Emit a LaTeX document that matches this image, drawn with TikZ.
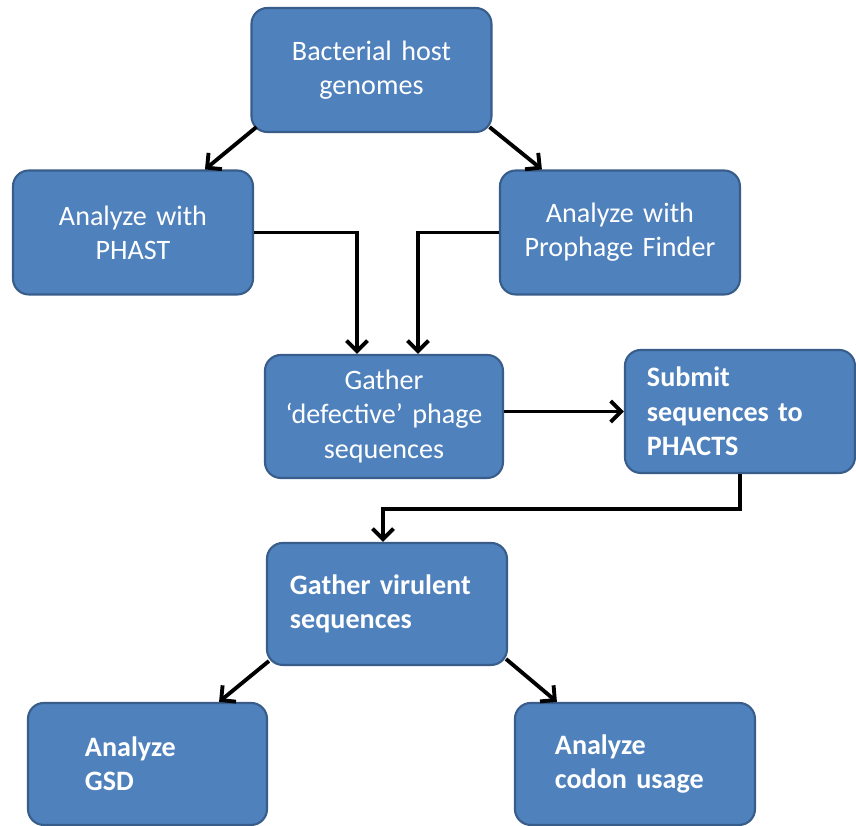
\documentclass[tikz,border=0pt]{standalone}
\usepackage{fontspec}
\setmainfont{Carlito}
\usepackage{tikz}
\usetikzlibrary{arrows.meta,positioning}
\definecolor{boxblue}{HTML}{4F81BD}
\definecolor{edgeblue}{HTML}{385D8A}
\newcommand{\boxfont}{\fontsize{16}{19.5}\selectfont\spaceskip=2.4pt plus 1pt minus 0.5pt}

\begin{document}
\begin{tikzpicture}[x=1cm,y=1cm,
  stepbox/.style={rectangle,rounded corners=9pt,draw=edgeblue,line width=1.2pt,fill=boxblue,text=white,minimum width=4.8cm,minimum height=2.48cm,font=\boxfont},
  midbox/.style={stepbox,text width=4.2cm,align=center,inner xsep=0.3cm},
  leftbox/.style={stepbox,align=left,font=\boxfont\bfseries},
  flow/.style={-{Straight Barb[length=6pt,width=12pt]},black,line width=2.2pt}]
\fill[white] (0,0) rectangle (17.12,-16.52);
\node[midbox] (host) at (7.43,-1.40) {Bacterial host\\genomes};
\node[midbox] (phast) at (2.66,-4.65) {Analyze with\\PHAST};
\node[midbox] (pfind) at (12.40,-4.65) {Analyze with\\Prophage Finder};
\draw[flow] ([shift={(0.12,0.12)}]host.south west) -- ([xshift=1.44cm]phast.north);
\draw[flow] ([shift={(-0.06,0.12)}]host.south east) -- ([xshift=0.86cm]pfind.north west);
\node[midbox,minimum width=4.76cm,text width=4.16cm,minimum height=2.46cm] (defect) at (7.68,-8.33) {Gather\\`defective' phage\\sequences};
\draw[flow] (phast.east) -| ([xshift=-0.54cm]defect.north);
\draw[flow] (pfind.west) -| ([xshift=0.68cm]defect.north);
\node[leftbox,minimum width=4.6cm,minimum height=2.46cm,inner xsep=0.44cm,text width=3.72cm] (submit) at (14.80,-8.23) {Submit\\sequences to\\PHACTS};
\draw[flow] (submit.west -| defect.east) -- (submit.west);
\node[leftbox,inner xsep=0.46cm,text width=3.88cm,minimum height=2.44cm] (viru) at (7.74,-12.08) {Gather virulent\\sequences};
\draw[flow] (submit.south) -- ++(0,-0.7) -| ([xshift=-0.08cm]viru.north);
\node[leftbox,minimum width=4.78cm,minimum height=2.44cm,inner xsep=1.14cm,text width=2.5cm] (gsd) at (2.95,-15.28) {Analyze\\GSD};
\node[leftbox,minimum height=2.44cm,inner xsep=0.8cm,text width=3.2cm] (codon) at (12.70,-15.28) {Analyze\\codon usage};
\draw[flow] ([shift={(0.06,0.1)}]viru.south west) -- ([xshift=-0.98cm]gsd.north east);
\draw[flow] ([shift={(-0.04,0.14)}]viru.south east) -- ([xshift=0.86cm]codon.north west);
\end{tikzpicture}
\end{document}
